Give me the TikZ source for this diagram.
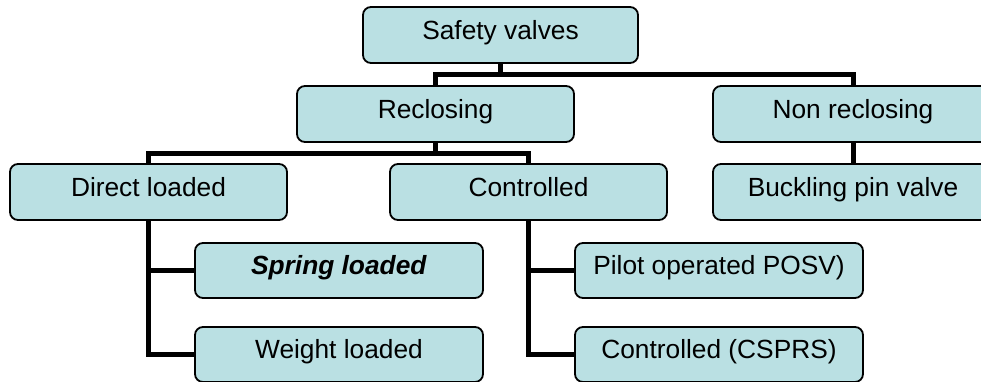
\documentclass[tikz,border=0pt]{standalone}
\usepackage{fontspec}
\setmainfont{Liberation Sans}
\definecolor{boxfill}{RGB}{186,224,227}
\begin{document}
\begin{tikzpicture}[x=1pt,y=-1pt,
  box/.style={draw=black,fill=boxfill,line width=1.8pt,rounded corners=8pt,
    anchor=north west,inner sep=0pt,outer sep=0pt,
    font=\fontsize{26.3}{30}\selectfont,
    minimum width=#1,text height=32pt,text depth=24pt},
  box/.default=277pt,
  sbox/.style={box=288pt,text height=31.5pt,text depth=23.5pt},
  conn/.style={draw=black,line width=5pt,line join=miter,line cap=butt}]
\useasboundingbox (0,0) rectangle (981,381);
\clip (0,0) rectangle (981,381);
% nodes
\node[box=275pt] (sv) at (363,7) {Safety valves};
\node[box] (rec) at (297,86) {Reclosing};
\node[box=280pt] (nr) at (713,86) {Non reclosing};
\node[box] (dl) at (10,164) {Direct loaded};
\node[box] (ct) at (390,164) {Controlled};
\node[box=280pt] (bk) at (713,164) {Buckling pin valve};
\node[sbox] (sp) at (195,243) {\textbf{\textit{Spring loaded}}};
\node[sbox] (wl) at (195,327) {Weight loaded};
\node[sbox=287pt] (po) at (575,243) {Pilot operated POSV)};
\node[sbox=287pt] (cc) at (575,327) {Controlled (CSPRS)};
% connectors
\draw[conn] (sv.south) -- ++(0,11) -| (rec.north);
\draw[conn] (sv.south) -- ++(0,11) -| (nr.north);
\draw[conn] (rec.south) -- ++(0,11) -| (dl.north);
\draw[conn] (rec.south) -- ++(0,11) -| (ct.north);
\draw[conn] (nr.south) -- (bk.north);
\draw[conn] (dl.south) |- (sp.west);
\draw[conn] (dl.south) |- (wl.west);
\draw[conn] (ct.south) |- (po.west);
\draw[conn] (ct.south) |- (cc.west);
\end{tikzpicture}
\end{document}
